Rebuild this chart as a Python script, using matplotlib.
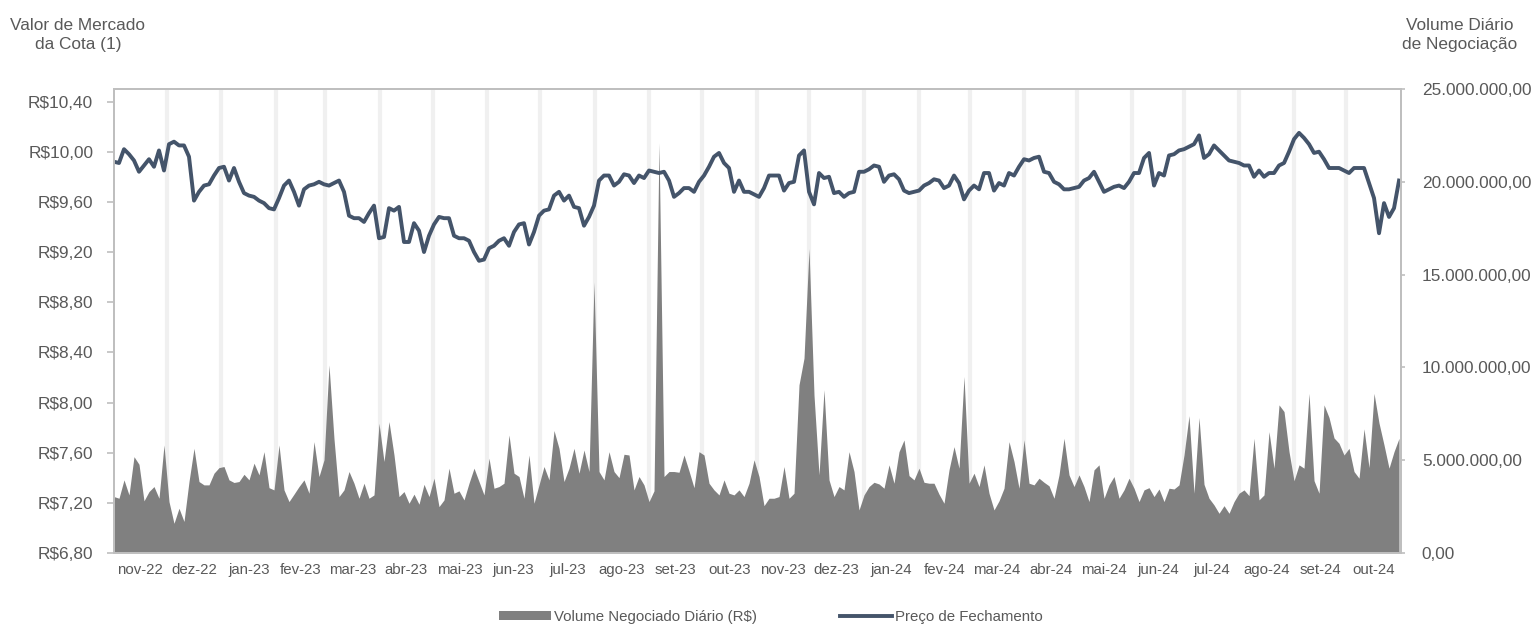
import matplotlib
matplotlib.use('Agg')
import matplotlib.pyplot as plt
from matplotlib.patches import Patch
from matplotlib.lines import Line2D
from matplotlib.ticker import FuncFormatter
import numpy as np
import pandas as pd

plt.rcParams['font.family'] = ['Liberation Sans', 'DejaVu Sans']

# periodo do grafico e intervalo entre leituras (dias corridos)
startDate = '2022-11-01'
endDate = '2024-11-01'
stepDays = 2.84

monthLabels = ['nov-22', 'dez-22', 'jan-23', 'fev-23', 'mar-23', 'abr-23', 'mai-23', 'jun-23',
               'jul-23', 'ago-23', 'set-23', 'out-23', 'nov-23', 'dez-23', 'jan-24', 'fev-24',
               'mar-24', 'abr-24', 'mai-24', 'jun-24', 'jul-24', 'ago-24', 'set-24', 'out-24']

# preco de fechamento (R$)
price = [
    9.92, 9.91, 10.02, 9.98, 9.93, 9.84, 9.89, 9.94, 9.88, 10.01, 9.85, 10.06, 10.08, 10.05, 10.05,
    9.96, 9.61, 9.68, 9.73, 9.74, 9.81, 9.87, 9.88, 9.77, 9.87, 9.76, 9.67, 9.65, 9.64, 9.61,
    9.59, 9.55, 9.54, 9.63, 9.73, 9.77, 9.68, 9.57, 9.70, 9.73, 9.74, 9.76, 9.74, 9.73,
    9.75, 9.77, 9.68, 9.49, 9.47, 9.47, 9.44, 9.51, 9.57, 9.31, 9.32, 9.55, 9.53, 9.56, 9.28,
    9.28, 9.43, 9.37, 9.20, 9.33, 9.42, 9.48, 9.47, 9.47, 9.33, 9.31, 9.31, 9.29, 9.20, 9.13,
    9.14, 9.23, 9.25, 9.29, 9.31, 9.25, 9.36, 9.42, 9.43, 9.26, 9.36, 9.49, 9.53,
    9.54, 9.65, 9.68, 9.61, 9.65, 9.56, 9.55, 9.41, 9.48, 9.57, 9.77, 9.81, 9.81, 9.73, 9.76,
    9.82, 9.81, 9.75, 9.81, 9.79, 9.85, 9.84, 9.83, 9.84, 9.77, 9.64, 9.67, 9.71, 9.71, 9.68,
    9.76, 9.81, 9.88, 9.96, 9.99, 9.91, 9.87, 9.68, 9.77, 9.68, 9.68, 9.66, 9.64,
    9.71, 9.81, 9.81, 9.81, 9.69, 9.75, 9.76, 9.97, 10.01, 9.68, 9.58, 9.83, 9.79, 9.80, 9.67,
    9.68, 9.64, 9.67, 9.68, 9.84, 9.84, 9.86, 9.89, 9.88, 9.76, 9.81, 9.82, 9.78, 9.69, 9.67,
    9.68, 9.69, 9.73, 9.75, 9.78, 9.77, 9.71, 9.73, 9.81, 9.75, 9.62, 9.69, 9.73,
    9.70, 9.83, 9.83, 9.69, 9.75, 9.73, 9.83, 9.81, 9.88, 9.94, 9.93, 9.95, 9.96, 9.84, 9.83,
    9.76, 9.74, 9.70, 9.70, 9.71, 9.72, 9.77, 9.79, 9.84, 9.76, 9.68, 9.70, 9.72, 9.73, 9.71,
    9.76, 9.83, 9.83, 9.95, 9.99, 9.73, 9.83, 9.81, 9.97, 9.98, 10.01, 10.02, 10.04,
    10.06, 10.13, 9.95, 9.98, 10.05, 10.01, 9.97, 9.93, 9.92, 9.91, 9.89, 9.89, 9.80, 9.85, 9.80,
    9.83, 9.83, 9.89, 9.91, 10.00, 10.10, 10.15, 10.11, 10.06, 9.99, 10.00, 9.94, 9.87, 9.87, 9.87,
    9.85, 9.83, 9.87, 9.87, 9.87, 9.75, 9.63, 9.35, 9.59, 9.48, 9.55, 9.77,
]

# volume negociado diario (milhoes de R$)
volume = [
    3.04, 2.95, 3.94, 3.13, 5.19, 4.78, 2.81, 3.31, 3.58, 2.95, 5.82, 2.77, 1.60, 2.41, 1.70,
    3.85, 5.64, 3.85, 3.67, 3.67, 4.30, 4.60, 4.66, 3.94, 3.80, 3.85, 4.24, 3.94, 4.84, 4.21,
    5.46, 3.52, 3.40, 5.82, 3.40, 2.77, 3.17, 3.58, 3.94, 3.22, 6.00, 4.12, 5.02, 10.13,
    6.15, 3.04, 3.40, 4.39, 3.76, 2.95, 3.76, 2.95, 3.13, 6.99, 4.93, 7.08, 5.28, 3.04, 3.31,
    2.68, 3.17, 2.63, 3.70, 3.04, 4.03, 2.50, 2.86, 4.57, 3.22, 3.35, 2.86, 3.76, 4.57, 3.85,
    3.13, 5.11, 3.49, 3.58, 3.76, 6.36, 4.30, 4.12, 2.95, 5.28, 2.68, 3.67, 4.66,
    3.94, 6.60, 5.64, 3.85, 4.57, 5.64, 4.30, 5.55, 4.39, 14.60, 4.39, 3.94, 5.46, 4.39, 4.06,
    5.32, 5.28, 3.40, 4.12, 3.67, 2.77, 3.35, 22.10, 4.12, 4.39, 4.39, 4.35, 5.28, 4.42, 3.52,
    5.46, 5.28, 3.76, 3.40, 3.13, 3.94, 3.22, 3.13, 3.40, 3.04, 3.76, 5.02, 4.12,
    2.55, 2.95, 2.95, 3.04, 4.66, 2.95, 3.22, 9.06, 10.50, 16.40, 8.50, 4.21, 8.80, 3.94, 3.04,
    3.58, 3.40, 5.46, 4.39, 2.32, 3.13, 3.58, 3.81, 3.72, 3.49, 4.75, 3.76, 5.46, 6.09, 4.17,
    3.94, 4.57, 3.81, 3.76, 3.76, 3.17, 2.68, 4.48, 5.73, 4.57, 9.51, 3.76, 4.30,
    3.58, 4.75, 3.22, 2.32, 2.81, 3.49, 6.00, 4.93, 3.49, 6.10, 3.76, 3.67, 4.03, 3.81, 3.62,
    2.95, 4.21, 6.18, 4.21, 3.58, 4.21, 3.58, 2.77, 4.48, 4.75, 2.95, 3.67, 4.12, 2.95, 3.40,
    4.03, 3.49, 2.77, 3.40, 3.52, 3.04, 3.45, 2.77, 3.49, 3.45, 3.67, 5.28, 7.40,
    3.22, 7.30, 3.70, 2.95, 2.59, 2.14, 2.55, 2.14, 2.77, 3.22, 3.40, 3.09, 6.18, 2.86, 3.13,
    6.54, 4.57, 7.98, 7.62, 5.46, 3.89, 4.75, 4.57, 8.60, 3.90, 3.22, 7.98, 7.30, 6.20, 5.91,
    5.28, 5.64, 4.39, 4.03, 6.69, 4.60, 8.60, 7.00, 5.82, 4.57, 5.46, 6.18,
]

textColor = '#595959'
lineColor = '#44546A'
areaColor = '#808080'
borderColor = '#bfbfbf'

axisFont = 12.4
smallFont = 10.8


def brlPrice(v, pos):
    return 'R$' + ('%.2f' % v).replace('.', ',')


def brlVolume(v, pos):
    s = '{:,.2f}'.format(v)
    return s.replace(',', 'X').replace('.', ',').replace('X', '.')


def plotChart():
    n = len(price)
    dates = pd.Timestamp(startDate) + pd.to_timedelta(np.arange(n) * stepDays, unit='D')
    vol = np.array(volume) * 1e6

    monthStarts = pd.date_range(startDate, endDate, freq='MS')
    mids = monthStarts[:-1] + (monthStarts[1:] - monthStarts[:-1]) / 2

    fig = plt.figure(figsize=(15.34, 6.28), dpi=100)
    axVol = fig.add_axes([114 / 1534, 1 - 553 / 628, 1287 / 1534, 464 / 628])
    axPrice = axVol.twinx()
    axVol.yaxis.tick_right()
    axPrice.yaxis.tick_left()

    # faixas verticais nas viradas de mes
    for d in monthStarts[1:-1]:
        axVol.axvline(d, color='#f0f0f0', lw=3, zorder=0)

    axVol.fill_between(dates, 0, vol, color=areaColor, lw=0, zorder=1)
    axPrice.plot(dates, price, color=lineColor, lw=2.8, solid_joinstyle='round')

    axVol.set_xlim(pd.Timestamp(startDate), pd.Timestamp(endDate))
    axVol.set_ylim(0, 25e6)
    axVol.set_yticks(np.arange(0, 25e6 + 1, 5e6))
    axVol.yaxis.set_major_formatter(FuncFormatter(brlVolume))
    axPrice.set_ylim(6.8, 10.5)
    axPrice.set_yticks(np.arange(6.8, 10.41, 0.4))
    axPrice.yaxis.set_major_formatter(FuncFormatter(brlPrice))

    axVol.set_xticks(mids)
    axVol.set_xticklabels(monthLabels)
    axVol.tick_params(axis='x', length=0, pad=7, labelsize=smallFont, labelcolor=textColor)
    axVol.tick_params(axis='y', right=True, left=False, length=3, pad=12, width=1.2,
                      color=borderColor, labelsize=axisFont, labelcolor=textColor)
    axPrice.tick_params(axis='y', left=True, right=False, length=5, pad=10, width=1.2,
                        color=borderColor, labelsize=axisFont, labelcolor=textColor)

    for ax in (axVol, axPrice):
        for s in ax.spines.values():
            s.set_color(borderColor)
            s.set_linewidth(1.4)

    fig.text(78 / 1534, 1 - 35 / 628, 'Valor de Mercado\nda Cota (1)', ha='center', va='center',
             fontsize=axisFont, color=textColor, linespacing=1.35)
    fig.text(1460 / 1534, 1 - 35 / 628, 'Volume Diário\nde Negociação', ha='center', va='center',
             fontsize=axisFont, color=textColor, linespacing=1.35)

    handles = [Patch(facecolor=areaColor, edgecolor='none'),
               Line2D([], [], color=lineColor, lw=2.8)]
    fig.legend(handles, ['Volume Negociado Diário (R$)', 'Preço de Fechamento'],
               loc='center', bbox_to_anchor=(771 / 1534, 1 - 617 / 628), ncol=2, frameon=False,
               fontsize=smallFont, labelcolor=textColor, handlelength=3.5, handleheight=0.6,
               handletextpad=0.2, columnspacing=5.5)

    fig.savefig('out.png', dpi=100)


if __name__ == '__main__':
    plotChart()
